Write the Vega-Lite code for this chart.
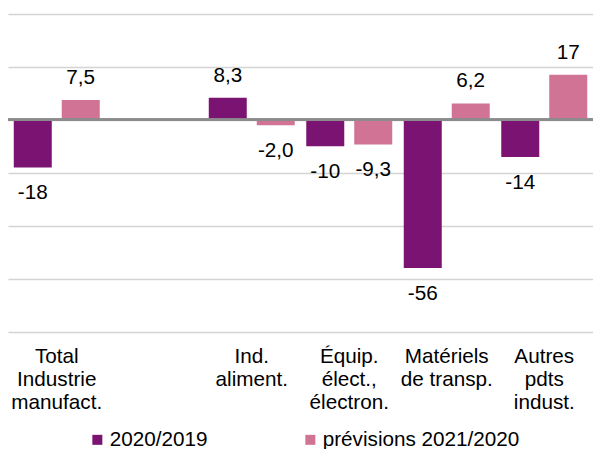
{
  "$schema": "https://vega.github.io/schema/vega-lite/v6.json",
  "width": 585,
  "height": 317.5,
  "autosize": {"type": "none"},
  "padding": {"left": 8, "top": 14, "right": 0, "bottom": 117.5},
  "config": {
    "font": "Liberation Sans",
    "view": {"stroke": null},
    "locale": {"number": {"decimal": ",", "thousands": " ", "grouping": [3], "currency": ["", " €"], "minus": "-"}}
  },
  "data": {
    "values": [
      {"cat": "Total|Industrie|manufact.", "serie": "2020/2019", "value": -18},
      {"cat": "Total|Industrie|manufact.", "serie": "prévisions 2021/2020", "value": 7.5},
      {"cat": "Ind.|aliment.", "serie": "2020/2019", "value": 8.3},
      {"cat": "Ind.|aliment.", "serie": "prévisions 2021/2020", "value": -2.0},
      {"cat": "Équip.|élect.,|électron.", "serie": "2020/2019", "value": -10},
      {"cat": "Équip.|élect.,|électron.", "serie": "prévisions 2021/2020", "value": -9.3},
      {"cat": "Matériels|de transp.", "serie": "2020/2019", "value": -56},
      {"cat": "Matériels|de transp.", "serie": "prévisions 2021/2020", "value": 6.2},
      {"cat": "Autres|pdts|indust.", "serie": "2020/2019", "value": -14},
      {"cat": "Autres|pdts|indust.", "serie": "prévisions 2021/2020", "value": 17}
    ]
  },
  "layer": [
    {
      "mark": {"type": "bar"},
      "encoding": {
        "x": {
          "field": "cat", "type": "nominal", "sort": null,
          "scale": {"domain": ["Total|Industrie|manufact.", "gap", "Ind.|aliment.", "Équip.|élect.,|électron.", "Matériels|de transp.", "Autres|pdts|indust."], "paddingInner": 0, "paddingOuter": 0},
          "axis": {
            "title": null, "ticks": false, "domain": false, "grid": false, "labelAngle": 0,
            "labelFontSize": 20.7, "labelColor": "#000", "labelLineHeight": 23,
            "labelPadding": 15, "labelBaseline": "top", "labelOverlap": false, "labelLimit": 0,
            "labelExpr": "datum.label == 'gap' ? '' : split(datum.label, '|')"
          }
        },
        "xOffset": {
          "field": "serie", "type": "nominal", "sort": null,
          "scale": {"domain": ["2020/2019", "prévisions 2021/2020"], "paddingInner": 0.208, "paddingOuter": 0.12}
        },
        "y": {
          "field": "value", "type": "quantitative",
          "scale": {"domain": [-80, 40], "nice": false, "zero": false},
          "axis": {"values": [-80, -60, -40, -20, 0, 20, 40], "labels": false, "ticks": false, "domain": false, "title": null, "gridColor": "#d4d4d4", "gridWidth": 1.5}
        },
        "color": {
          "field": "serie", "type": "nominal",
          "scale": {"domain": ["2020/2019", "prévisions 2021/2020"], "range": ["#7B1372", "#D17395"]},
          "legend": {
            "orient": "none", "legendX": 79, "legendY": 415, "direction": "horizontal",
            "title": null, "symbolType": "square", "symbolSize": 100, "symbolStrokeWidth": 0,
            "labelFontSize": 20.7, "labelColor": "#000", "labelOffset": 2, "labelLimit": 0, "columnPadding": 92, "padding": 0
          }
        }
      }
    },
    {
      "mark": {"type": "rule", "color": "#8c8c8c", "strokeWidth": 2},
      "encoding": {"y": {"datum": 0, "type": "quantitative"}}
    },
    {
      "transform": [{"filter": "datum.value >= 0"}],
      "mark": {"type": "text", "baseline": "middle", "dy": -22, "fontSize": 20.7, "color": "#000"},
      "encoding": {
        "x": {"field": "cat", "type": "nominal", "sort": null},
        "xOffset": {"field": "serie", "type": "nominal", "sort": null},
        "y": {"field": "value", "type": "quantitative"},
        "text": {"field": "value", "type": "quantitative", "format": ".2r"}
      }
    },
    {
      "transform": [{"filter": "datum.value < 0"}],
      "mark": {"type": "text", "baseline": "middle", "dy": 26, "fontSize": 20.7, "color": "#000"},
      "encoding": {
        "x": {"field": "cat", "type": "nominal", "sort": null},
        "xOffset": {"field": "serie", "type": "nominal", "sort": null},
        "y": {"field": "value", "type": "quantitative"},
        "text": {"field": "value", "type": "quantitative", "format": ".2r"}
      }
    }
  ]
}
